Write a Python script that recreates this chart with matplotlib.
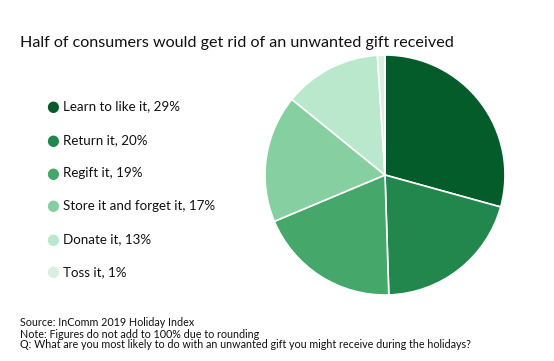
import matplotlib
matplotlib.use("Agg")
import matplotlib.pyplot as plt

plt.rcParams["font.family"] = ["Lato", "DejaVu Sans"]

labels = ["Learn to like it", "Return it", "Regift it", "Store it and forget it", "Donate it", "Toss it"]
values = [29, 20, 19, 17, 13, 1]
colors = ["#035c2a", "#22874c", "#45a76a", "#86cfa1", "#b9e8cc", "#d8efe2"]

title = "Half of consumers would get rid of an unwanted gift received"
notes = [
    "Source: InComm 2019 Holiday Index",
    "Note: Figures do not add to 100% due to rounding",
    "Q: What are you most likely to do with an unwanted gift you might receive during the holidays?",
]

fig = plt.figure(figsize=(5.54, 3.61), dpi=100)
W, H = 554, 361

# pie
r = 120
cx, cy = 385, 175
ax = fig.add_axes([(cx - r) / W, 1 - (cy + r) / H, 2 * r / W, 2 * r / H])
ax.pie(values, colors=colors, startangle=90, counterclock=False,
       wedgeprops=dict(edgecolor="white", linewidth=1.2))
ax.set_xlim(-1, 1)
ax.set_ylim(-1, 1)
ax.set_aspect("equal")
ax.axis("off")

fig.text(20 / W, 1 - 43 / H, title, fontsize=11.6, va="center", ha="left", color="#111111")

# legend
leg_y = [106, 140, 173, 206, 239, 272]
for lab, v, c, y in zip(labels, values, colors, leg_y):
    fig.text(53 / W, 1 - y / H, "\u25cf", fontsize=10.5, color=c, va="center", ha="center",
             family="DejaVu Sans")
    fig.text(63 / W, 1 - y / H, f"{lab}, {v}%", fontsize=9.6, va="center", ha="left", color="#111111")

for i, line in enumerate(notes):
    fig.text(20 / W, 1 - (323 + i * 11) / H, line, fontsize=7.75, va="center", ha="left", color="#111111")

fig.savefig("out.png", dpi=100)
